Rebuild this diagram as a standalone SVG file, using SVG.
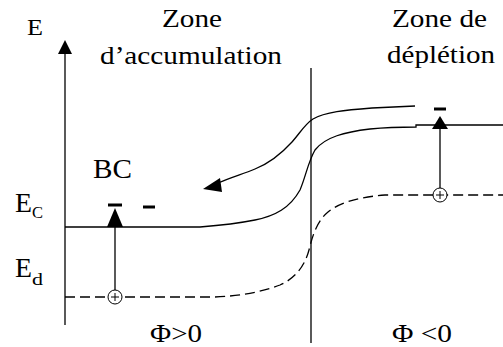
<svg xmlns="http://www.w3.org/2000/svg" width="503" height="347" viewBox="0 0 503 347">
<style>
.ln{fill:none;stroke:#000;stroke-width:1.3}
.ds{fill:none;stroke:#000;stroke-width:1.3;stroke-dasharray:10 5}
.mn{stroke:#000;stroke-width:3}
.hd{fill:#000;stroke:none}
.ci{fill:#fff;stroke:#000;stroke-width:1}
</style>
<rect width="503" height="347" fill="#fff"/>
<g id="labels" fill="#000">
<text font-family="Liberation Serif" x="27" y="35" font-size="23" textLength="16" lengthAdjust="spacingAndGlyphs">E</text>
<text font-family="Liberation Serif" x="162" y="27" font-size="26" textLength="60" lengthAdjust="spacingAndGlyphs">Zone</text>
<text font-family="Liberation Serif" x="100" y="64" font-size="26" textLength="182" lengthAdjust="spacingAndGlyphs">d’accumulation</text>
<text font-family="Liberation Serif" x="392" y="27" font-size="26" textLength="95" lengthAdjust="spacingAndGlyphs">Zone de</text>
<text font-family="Liberation Serif" x="387" y="63" font-size="26" textLength="108" lengthAdjust="spacingAndGlyphs">déplétion</text>
<text font-family="Liberation Serif" x="93" y="178" font-size="27" textLength="39" lengthAdjust="spacingAndGlyphs">BC</text>
<text font-family="Liberation Serif" x="15" y="212" font-size="27" textLength="17" lengthAdjust="spacingAndGlyphs">E</text>
<text font-family="Liberation Serif" x="32" y="218" font-size="17" textLength="11" lengthAdjust="spacingAndGlyphs">C</text>
<text font-family="Liberation Serif" x="15" y="277" font-size="27" textLength="17" lengthAdjust="spacingAndGlyphs">E</text>
<text font-family="Liberation Serif" x="32" y="285" font-size="17" textLength="11" lengthAdjust="spacingAndGlyphs">d</text>
<text font-family="Liberation Serif" x="150" y="342" font-size="25" textLength="52" lengthAdjust="spacingAndGlyphs">Φ&gt;0</text>
<text font-family="Liberation Serif" x="392" y="342" font-size="25" textLength="60" lengthAdjust="spacingAndGlyphs">Φ &lt;0</text>
</g>
<g id="axis">
<line class="ln" x1="65" y1="52" x2="65" y2="325"/>
<polygon class="hd" points="65,40 58,54 72,54"/>
</g>
<g id="interface">
<line class="ln" x1="311" y1="68" x2="311" y2="343" stroke-width="1.6"/>
</g>
<g id="bands">
<path class="ln" d="M65,227 L200,227 C225,225 240,223 255,220 C275,216 290,208 300,190 C306,176 308,162 315,150 C325,137 345,132 370,129 C390,127 405,127 416,127 L416,125 L503,125"/>
<path class="ln" d="M415,106 L372,108 C345,110 325,112 313,119 C305,124 300,133 292,142 C282,153 270,163 255,169 C243,174 232,177 218,183"/>
<polygon class="hd" points="203,189 220,178 222,192"/>
<path class="ds" d="M65,297 L215,297 C240,296 262,292 280,285 C296,278 305,265 309,250 C312,238 316,222 328,212 C340,202 360,197 385,195 L503,195"/>
</g>
<g id="transition-left">
<line class="ln" x1="115" y1="290" x2="115" y2="224"/>
<polygon class="hd" points="115,208 107,227 123,227"/>
<circle class="ci" cx="115" cy="297" r="7"/>
<path d="M111,297 H119 M115,293 V301" stroke="#000" stroke-width="1"/>
<line class="mn" x1="108" y1="205" x2="122" y2="205"/>
<line class="mn" x1="143" y1="207" x2="155" y2="207"/>
</g>
<g id="transition-right">
<line class="ln" x1="440" y1="188" x2="440" y2="126"/>
<polygon class="hd" points="440,116 432,129 448,129"/>
<circle class="ci" cx="440" cy="195" r="7"/>
<path d="M436,195 H444 M440,191 V199" stroke="#000" stroke-width="1"/>
<line class="mn" x1="434" y1="109" x2="446" y2="109"/>
</g>
</svg>
